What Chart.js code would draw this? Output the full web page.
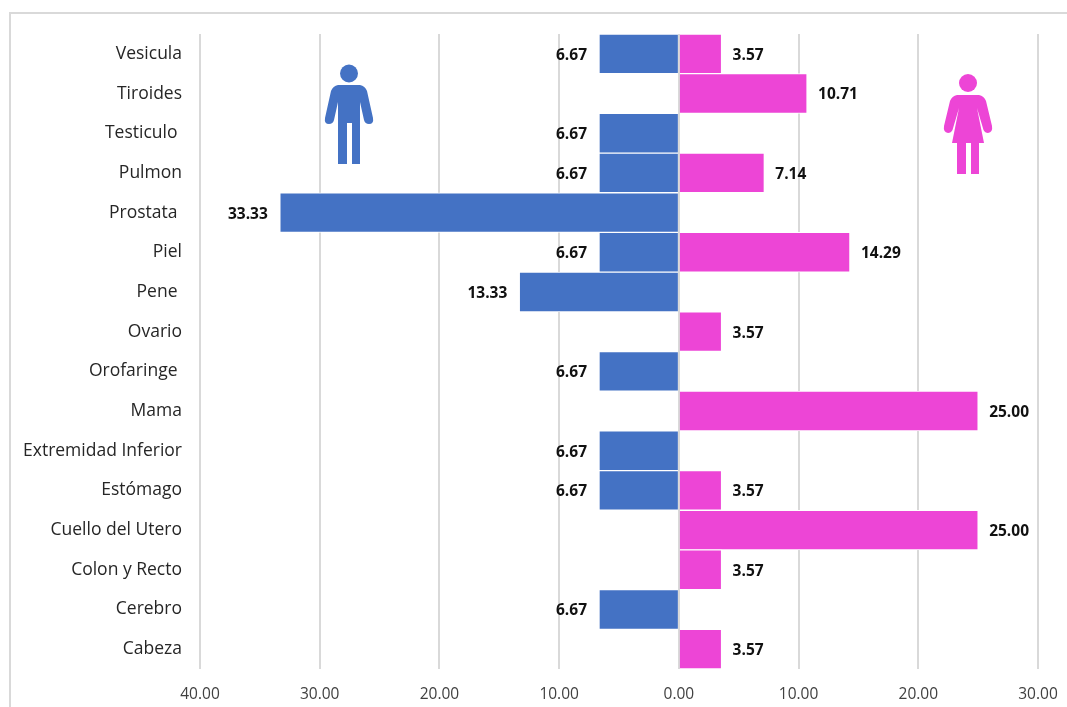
<!DOCTYPE html>
<html>
<head>
<meta charset="utf-8">
<style>
html, body { margin: 0; padding: 0; background: #fff; overflow: hidden; }
#wrap { position: relative; width: 1067px; height: 707px; }
#frame { position: absolute; left: 9px; top: 12px; right: 0; bottom: 0; border-left: 2px solid #d9d9d9; border-top: 2px solid #d9d9d9; }
canvas { position: absolute; left: 0; top: 0; }
svg { position: absolute; }
</style>
</head>
<body>
<div id="wrap">
    <div id="frame"></div>
    <canvas id="chart" width="1067" height="707"></canvas>
    <svg style="left:324px;top:64px" width="50" height="102" viewBox="0 0 50 102" fill="#4472c4">
        <circle cx="25" cy="9.5" r="9"/>
        <path d="M14 21 H36 Q41 22 43 27 L49 54 Q50 60 45 60 Q41 60 40 56 L36 38 V100 H28 V59 H23 V100 H14 V38 L10 56 Q9 60 5 60 Q0 60 1 54 L7 27 Q9 22 14 21 Z"/>
    </svg>
    <svg style="left:943px;top:73px" width="50" height="102" viewBox="0 0 50 102" fill="#ed45d6">
        <circle cx="25" cy="10" r="9"/>
        <path d="M14 22 H36 Q41 23 43 28 L49 53 Q50 59 45 60 Q42 60 40.5 57 L34 35 L41 70 H36 V101 H28 V70 H23 V101 H14 V70 H9 L16 35 L9.5 57 Q8 60 5 60 Q0 59 1 53 L7 28 Q9 23 14 22 Z"/>
    </svg>
</div>
<script src="https://cdn.jsdelivr.net/npm/chart.js@4"></script>
<script>
var categorias = ["Vesicula", "Tiroides", "Testiculo ", "Pulmon", "Prostata ", "Piel", "Pene ", "Ovario", "Orofaringe ", "Mama", "Extremidad Inferior", "Estómago", "Cuello del Utero", "Colon y Recto", "Cerebro", "Cabeza"];
var hombres = [-6.67, null, -6.67, -6.67, -33.33, -6.67, -13.33, null, -6.67, null, -6.67, -6.67, null, null, -6.67, null];
var mujeres = [3.57, 10.71, null, 7.14, null, 14.29, null, 3.57, null, 25.00, null, 3.57, 25.00, 3.57, null, 3.57];

var fuente = "'Open Sans', sans-serif";

// etiquetas de valor junto a cada barra
var etiquetas = {
    id: 'etiquetas',
    afterDatasetsDraw: function (chart) {
        var ctx = chart.ctx;
        ctx.save();
        ctx.font = "bold 15.5px " + fuente;
        ctx.fillStyle = '#111';
        ctx.textBaseline = 'middle';
        chart.data.datasets.forEach(function (ds, i) {
            chart.getDatasetMeta(i).data.forEach(function (bar, j) {
                var v = ds.data[j];
                if (v === null) return;
                ctx.textAlign = v < 0 ? 'right' : 'left';
                ctx.fillText(Math.abs(v).toFixed(2), bar.x + (v < 0 ? -12 : 11), bar.y + 1.5);
            });
        });
        ctx.restore();
    }
};

new Chart(document.getElementById("chart"), {
    type: 'bar',
    data: {
        labels: categorias,
        datasets: [
            { label: "Hombres", data: hombres, backgroundColor: '#4472c4', borderColor: '#ffffff', borderWidth: 1 },
            { label: "Mujeres", data: mujeres, backgroundColor: '#ed45d6', borderColor: '#ffffff', borderWidth: 1 }
        ]
    },
    options: {
        indexAxis: 'y',
        responsive: false,
        animation: false,
        categoryPercentage: 1,
        barPercentage: 1,
        layout: { padding: { left: 0, top: 34, right: 29, bottom: 0 } },
        plugins: { legend: { display: false }, title: { display: false }, tooltip: { enabled: false } },
        scales: {
            x: {
                stacked: true,
                min: -40,
                max: 30,
                afterFit: function (scale) {
                    scale.height = 38;
                    scale.paddingLeft = 0;
                    scale.paddingRight = 0;
                },
                grid: { color: '#d9d9d9', lineWidth: 2, drawTicks: false },
                border: { display: false },
                ticks: {
                    stepSize: 10,
                    padding: 16,
                    maxRotation: 0,
                    color: '#404040',
                    font: { family: fuente, size: 15.5 },
                    callback: function (v) { return Math.abs(v).toFixed(2); }
                }
            },
            y: {
                stacked: true,
                afterFit: function (scale) { scale.width = 200; },
                grid: { display: false },
                border: { display: false },
                ticks: {
                    autoSkip: false,
                    padding: 10,
                    color: '#262626',
                    font: { family: fuente, size: 17.5 }
                }
            }
        }
    },
    plugins: [etiquetas]
});
</script>
</body>
</html>
